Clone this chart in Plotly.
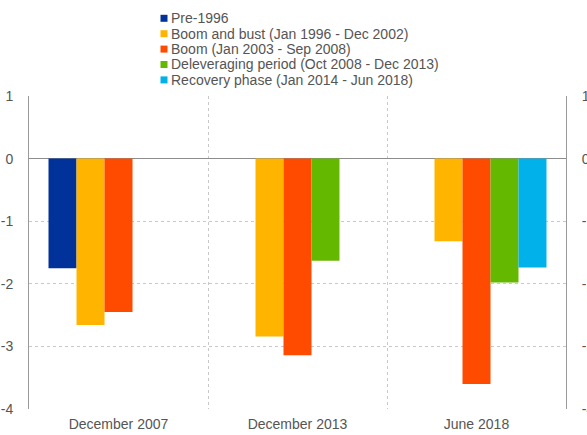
"""Grouped bar chart of deviations by phase"""
import plotly.graph_objects as go

categories = ['December 2007', 'December 2013', 'June 2018']
series_names = [
    'Pre-1996',
    'Boom and bust (Jan 1996 - Dec 2002)',
    'Boom (Jan 2003 - Sep 2008)',
    'Deleveraging period (Oct 2008 - Dec 2013)',
    'Recovery phase (Jan 2014 - Jun 2018)',
]
pre_1996 = [-1.75, None, None]
boom_and_bust = [-2.66, -2.84, -1.32]
boom = [-2.45, -3.14, -3.60]
deleveraging = [None, -1.63, -1.98]
recovery = [None, None, -1.74]
series_values = [pre_1996, boom_and_bust, boom, deleveraging, recovery]
colors = ['#003299', '#FFB400', '#FF4B00', '#65B800', '#00B1EA']
y_ticks = [1, 0, -1, -2, -3, -4]

W, H = 587, 435
L, R, T, B = 29, 21, 96, 26
plot_w = W - L - R
plot_h = H - T - B
grey = '#555555'
font = dict(family='Liberation Sans, Arial, sans-serif', size=14, color=grey)

fig = go.Figure()

for name, vals, col in zip(series_names, series_values, colors):
    fig.add_trace(go.Bar(
        x=categories,
        y=vals,
        name=name,
        marker=dict(color=col, line=dict(width=0)),
        showlegend=False,
    ))

# empty trace so the right-hand axis gets drawn
fig.add_trace(go.Scatter(x=[], y=[], yaxis='y2', showlegend=False,
                         hoverinfo='skip'))

# legend drawn by hand so the rows can sit closer than plotly allows
for i, (name, col) in enumerate(zip(series_names, colors)):
    ypix = 18.3 + i * 15.4
    yp = 1 + (T - ypix) / plot_h
    fig.add_shape(
        type='rect', xref='paper', yref='paper',
        x0=(160.5 - L) / plot_w, x1=(167.5 - L) / plot_w,
        y0=yp - 3.5 / plot_h, y1=yp + 3.5 / plot_h,
        fillcolor=col, line=dict(width=0),
    )
    fig.add_annotation(
        text=name, xref='paper', yref='paper',
        x=(169 - L) / plot_w, y=yp,
        xanchor='left', yanchor='middle', showarrow=False,
        font=font,
    )

axis_common = dict(
    range=[-4, 1],
    tickvals=y_ticks,
    ticktext=[str(v) for v in y_ticks],
    showline=True,
    linecolor='#9a9a9a',
    linewidth=1,
    ticks='',
    ticklabelstandoff=12,
    tickfont=font,
    automargin=False,
)

fig.update_layout(
    width=W,
    height=H,
    margin=dict(l=L, r=R, t=T, b=B),
    plot_bgcolor='white',
    paper_bgcolor='white',
    barmode='group',
    bargap=0.218,
    bargroupgap=0,
    font=font,
    xaxis=dict(
        type='category',
        tickson='boundaries',
        showgrid=True,
        gridcolor='#c8c8c8',
        griddash='dot',
        ticks='',
        showline=False,
        ticklabelstandoff=5,
        tickfont=font,
        automargin=False,
    ),
    yaxis=dict(
        **axis_common,
        showgrid=True,
        gridcolor='#c8c8c8',
        griddash='dot',
        zeroline=True,
        zerolinecolor='#8c8c8c',
        zerolinewidth=1,
    ),
    yaxis2=dict(
        **axis_common,
        overlaying='y',
        side='right',
        showgrid=False,
        zeroline=False,
    ),
)

fig.write_html("out.html", config={'displayModeBar': False},
               post_script="document.body.style.margin='0';")
